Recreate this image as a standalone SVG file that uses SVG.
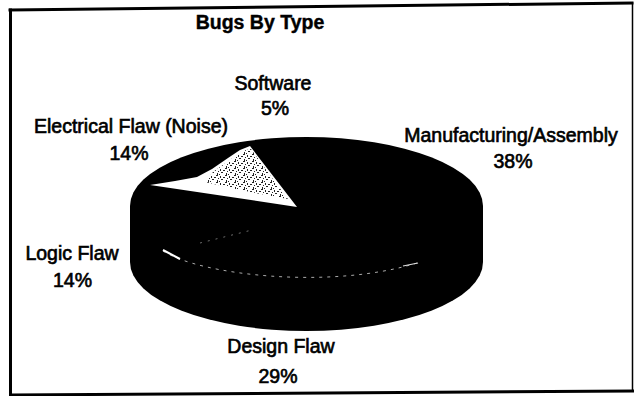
<svg xmlns="http://www.w3.org/2000/svg" width="634" height="396" viewBox="0 0 634 396">
  <style>
    .lbl { font-family: "Liberation Sans", Arial, sans-serif; font-size: 19.5px; fill: #000; stroke: #000; stroke-width: 0.65; text-anchor: middle; }
    .title { font-family: "Liberation Sans", Arial, sans-serif; font-size: 19.5px; font-weight: bold; fill: #000; stroke: #000; stroke-width: 0.4; text-anchor: middle; }
    .frame { stroke: #000; fill: none; stroke-linecap: square; }
  </style>
  <defs>
    <pattern id="speckle" width="9" height="7" patternUnits="userSpaceOnUse">
      <rect width="9" height="7" fill="#fff"/>
      <rect x="0" y="0" width="2" height="1" fill="#222"/>
      <rect x="4" y="1" width="1" height="2" fill="#222"/>
      <rect x="7" y="2" width="2" height="1" fill="#222"/>
      <rect x="2" y="3" width="1" height="1" fill="#222"/>
      <rect x="5" y="4" width="2" height="1" fill="#222"/>
      <rect x="1" y="5" width="1" height="2" fill="#222"/>
      <rect x="3" y="6" width="1" height="1" fill="#222"/>
    </pattern>
  </defs>
  <rect width="634" height="396" fill="#fff"/>

  <g id="frame">
    <line class="frame" x1="10.5" y1="10" x2="10.5" y2="395" stroke-width="3"/>
    <line class="frame" x1="10" y1="10" x2="632" y2="3" stroke-width="3"/>
    <line class="frame" x1="632.5" y1="3" x2="632.5" y2="391" stroke-width="1.5"/>
    <line class="frame" x1="11" y1="395" x2="633" y2="391" stroke-width="3"/>
  </g>

  <g id="title">
    <text class="title" x="260" y="29">Bugs By Type</text>
  </g>

  <g id="pie">
    <path d="M130,206 A176.5,69 0 0 1 483,206 L483,262 A176.5,69 0 0 1 130,262 Z" fill="#000"/>
    <g id="slice-software">
      <polygon points="297,207 150,185 175,181 197,177 212,169 228,158 240,150 250,146" fill="#fff"/>
      <polygon points="288,199 240,190 205,182 213,172 230,160 242,151 251,149 275,182" fill="url(#speckle)"/>
    </g>
    <g id="rim-lines">
      <path d="M163,251 C200,275 330,290 417,263" fill="none" stroke="#aaa" stroke-width="1" stroke-dasharray="3 5"/>
      <line x1="163" y1="250" x2="180" y2="259" stroke="#fff" stroke-width="2"/>
      <line x1="403" y1="266" x2="418" y2="263" stroke="#ddd" stroke-width="1.2"/>
      <path d="M200,243 L252,230" fill="none" stroke="#888" stroke-width="0.8" stroke-dasharray="2 6"/>
    </g>
  </g>

  <g id="label-software">
    <text class="lbl" x="273" y="90">Software</text>
    <text class="lbl" x="275" y="115">5%</text>
  </g>
  <g id="label-electrical">
    <text class="lbl" x="131" y="133">Electrical Flaw (Noise)</text>
    <text class="lbl" x="129" y="160">14%</text>
  </g>
  <g id="label-manufacturing">
    <text class="lbl" x="511" y="142">Manufacturing/Assembly</text>
    <text class="lbl" x="513" y="168">38%</text>
  </g>
  <g id="label-logic">
    <text class="lbl" x="72" y="260">Logic Flaw</text>
    <text class="lbl" x="72.5" y="287">14%</text>
  </g>
  <g id="label-design">
    <text class="lbl" x="281" y="353">Design Flaw</text>
    <text class="lbl" x="278" y="383">29%</text>
  </g>
</svg>
